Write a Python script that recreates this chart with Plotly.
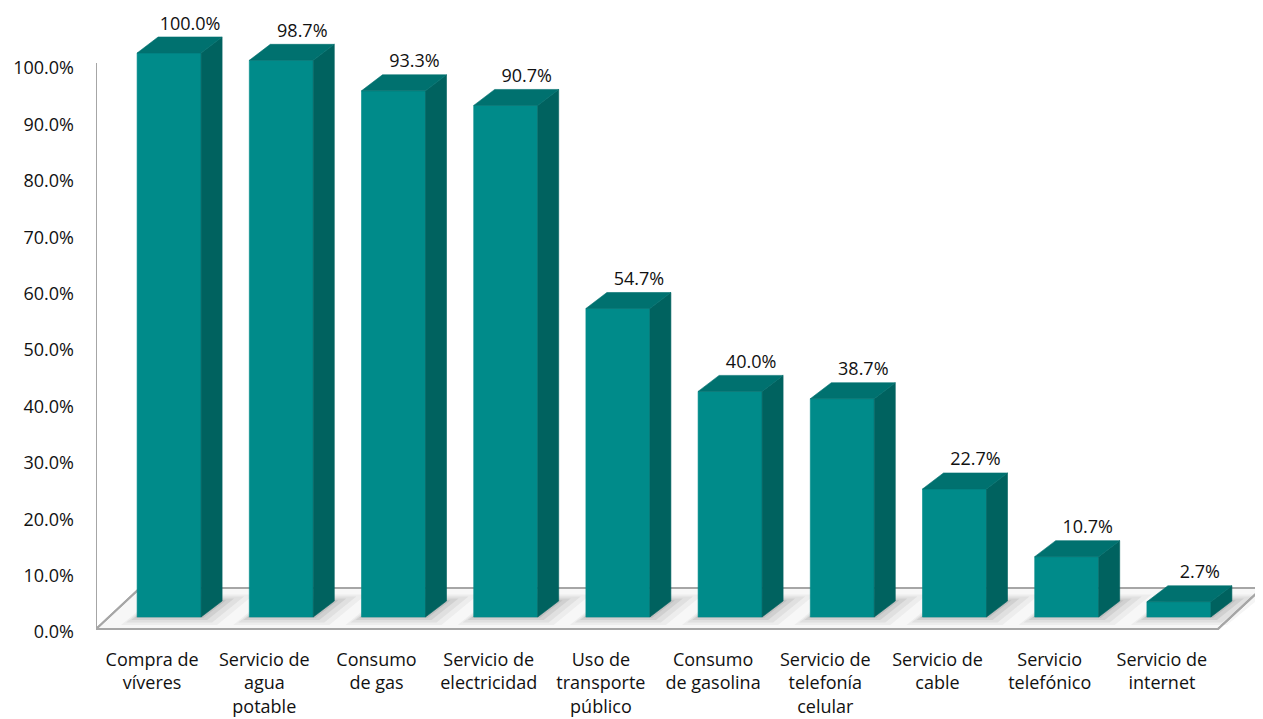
import plotly.graph_objects as go

# ---------------- data ----------------
categories = [
    "Compra de\nvíveres",
    "Servicio de\nagua\npotable",
    "Consumo\nde gas",
    "Servicio de\nelectricidad",
    "Uso de\ntransporte\npúblico",
    "Consumo\nde gasolina",
    "Servicio de\ntelefonía\ncelular",
    "Servicio de\ncable",
    "Servicio\ntelefónico",
    "Servicio de\ninternet",
]
values = [100.0, 98.7, 93.3, 90.7, 54.7, 40.0, 38.7, 22.7, 10.7, 2.7]
y_ticks = [0, 10, 20, 30, 40, 50, 60, 70, 80, 90, 100]
y_tick_labels = [f"{t:.1f}%" for t in y_ticks]

# ---------------- geometry / style ----------------
PAGE_W, PAGE_H = 1263, 719
BODY = 8                      # default page margin around the plot div
W, H = PAGE_W - BODY, PAGE_H - BODY
PLOT_L, PLOT_R, PLOT_T, PLOT_B = 96, 1263, 8, 634   # plot area in page pixels
ML, MR, MT, MB = PLOT_L - BODY, PAGE_W - PLOT_R, PLOT_T - BODY, PAGE_H - PLOT_B
PX_X = 112.2          # pixels per category slot
PX_Y = 5.64           # pixels per percentage point
Y0_PIX = 632          # page row of 0 %

plot_w = PLOT_R - PLOT_L
plot_h = PLOT_B - PLOT_T
x_range = [-0.5, -0.5 + plot_w / PX_X]
y_bottom = -(PLOT_B - Y0_PIX) / PX_Y
y_range = [y_bottom, y_bottom + plot_h / PX_Y]

def ux(px):
    return px / PX_X

def uy(px):
    return px / PX_Y

FLOOR_Y0 = uy(3)
FLOOR_DX, FLOOR_DY = ux(44), uy(41)
BAR_OFF_X, BAR_OFF_Y = ux(17), uy(15)
BAR_HALF = ux(32)
SIDE_DX, SIDE_DY = ux(21), uy(16)

FRONT = "#008B8A"
SIDE = "#00625F"
TOP = "#00716F"
EDGE = "#A6A6A6"
FONT = "'Open Sans', Lato, sans-serif"
TEXT = "#111111"

n = len(values)
fig = go.Figure()

# floor
fx = [-0.5, n - 0.5, n - 0.5 + FLOOR_DX, -0.5 + FLOOR_DX, -0.5]
fy = [FLOOR_Y0, FLOOR_Y0, FLOOR_Y0 + FLOOR_DY, FLOOR_Y0 + FLOOR_DY, FLOOR_Y0]
fig.add_trace(go.Scatter(x=fx, y=fy, mode="lines", fill="toself",
                         fillcolor="#F7F7F7", line=dict(color=EDGE, width=2),
                         hoverinfo="skip", showlegend=False))

# soft shadows on the floor
for k, alpha in [(16, 0.05), (11, 0.07), (6, 0.09), (2, 0.10)]:
    sx, sy = [], []
    for i in range(n):
        xl = i + BAR_OFF_X - BAR_HALF - ux(k)
        xr = i + BAR_OFF_X + BAR_HALF + ux(k)
        yb = BAR_OFF_Y - uy(k * 0.5)
        sx += [xl, xr, xr + SIDE_DX + ux(k), xl + SIDE_DX + ux(k), xl, None]
        sy += [yb, yb, yb + SIDE_DY + uy(k * 0.9), yb + SIDE_DY + uy(k * 0.9), yb, None]
    fig.add_trace(go.Scatter(x=sx, y=sy, mode="lines", fill="toself",
                             fillcolor=f"rgba(60,60,60,{alpha})",
                             line=dict(width=0), hoverinfo="skip", showlegend=False))

# floor outline on top of shadows
fig.add_trace(go.Scatter(x=fx, y=fy, mode="lines",
                         line=dict(color=EDGE, width=2),
                         hoverinfo="skip", showlegend=False))

# value axis line
fig.add_trace(go.Scatter(x=[-0.5, -0.5], y=[FLOOR_Y0, 100.9], mode="lines",
                         line=dict(color=EDGE, width=2),
                         hoverinfo="skip", showlegend=False))

# bars
front_x, front_y, side_x, side_y, top_x, top_y = [], [], [], [], [], []
for i, v in enumerate(values):
    xl = i + BAR_OFF_X - BAR_HALF
    xr = i + BAR_OFF_X + BAR_HALF
    yb = BAR_OFF_Y
    yt = BAR_OFF_Y + v
    front_x += [xl, xr, xr, xl, xl, None]
    front_y += [yb, yb, yt, yt, yb, None]
    side_x += [xr, xr + SIDE_DX, xr + SIDE_DX, xr, xr, None]
    side_y += [yb, yb + SIDE_DY, yt + SIDE_DY, yt, yb, None]
    top_x += [xl, xr, xr + SIDE_DX, xl + SIDE_DX, xl, None]
    top_y += [yt, yt, yt + SIDE_DY, yt + SIDE_DY, yt, None]

for xs, ys, col in [(front_x, front_y, FRONT), (side_x, side_y, SIDE), (top_x, top_y, TOP)]:
    fig.add_trace(go.Scatter(x=xs, y=ys, mode="lines", fill="toself",
                             fillcolor=col, line=dict(color=col, width=0.6),
                             hoverinfo="skip", showlegend=False))

# data labels
fig.add_trace(go.Scatter(
    x=[i + BAR_OFF_X + ux(21) for i in range(n)],
    y=[BAR_OFF_Y + v + SIDE_DY + uy(3) for v in values],
    mode="text",
    text=[f"{v:.1f}%" for v in values],
    textposition="top center",
    textfont=dict(family=FONT, size=18, color=TEXT),
    cliponaxis=False, hoverinfo="skip", showlegend=False))

fig.update_layout(
    width=W, height=H,
    margin=dict(l=ML, r=MR, t=MT, b=MB, pad=0),
    paper_bgcolor="white", plot_bgcolor="white",
    showlegend=False,
    xaxis=dict(range=x_range, showgrid=False, zeroline=False, showline=False,
               tickmode="array", tickvals=list(range(n)),
               ticktext=[c.replace("\n", "<br>") for c in categories],
               tickfont=dict(family=FONT, size=18, color=TEXT),
               ticks="", ticklabelstandoff=13, fixedrange=True),
    yaxis=dict(range=y_range, showgrid=False, zeroline=False, showline=False,
               tickmode="array", tickvals=y_ticks, ticktext=y_tick_labels,
               tickfont=dict(family=FONT, size=18, color=TEXT),
               ticks="", ticklabelstandoff=21, fixedrange=True),
)

fig.write_html("out.html", config={"displayModeBar": False})
